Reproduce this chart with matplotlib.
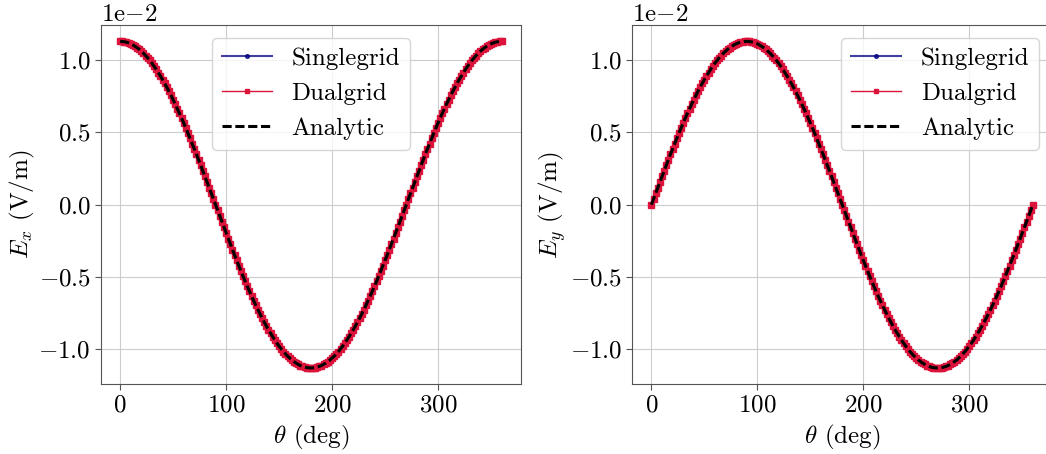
import matplotlib
matplotlib.use("Agg")
import matplotlib.pyplot as plt
from matplotlib.ticker import ScalarFormatter

plt.rcParams['font.family'] = ['cmr10', 'DejaVu Serif']
plt.rcParams['mathtext.fontset'] = 'cm'
plt.rcParams['axes.formatter.use_mathtext'] = True
plt.rcParams['font.size'] = 18

# Data (field values in units of 1e-2 V/m), sampled every 2 degrees
theta = list(range(0, 361, 2))
scale = 1e-2
ex_values = [1.130, 1.129, 1.127, 1.124, 1.119, 1.113, 1.105, 1.096, 1.086, 1.075,
             1.062, 1.048, 1.032, 1.016, 0.998, 0.979, 0.958, 0.937, 0.914, 0.890,
             0.866, 0.840, 0.813, 0.785, 0.756, 0.726, 0.696, 0.664, 0.632, 0.599,
             0.565, 0.531, 0.495, 0.460, 0.423, 0.386, 0.349, 0.311, 0.273, 0.235,
             0.196, 0.157, 0.118, 0.079, 0.039, 0.000,
             -0.039, -0.079, -0.118, -0.157, -0.196, -0.235, -0.273, -0.311, -0.349,
             -0.386, -0.423, -0.460, -0.495, -0.531, -0.565, -0.599, -0.632, -0.664,
             -0.696, -0.726, -0.756, -0.785, -0.813, -0.840, -0.866, -0.890, -0.914,
             -0.937, -0.958, -0.979, -0.998, -1.016, -1.032, -1.048, -1.062, -1.075,
             -1.086, -1.096, -1.105, -1.113, -1.119, -1.124, -1.127, -1.129, -1.130,
             -1.129, -1.127, -1.124, -1.119, -1.113, -1.105, -1.096, -1.086, -1.075,
             -1.062, -1.048, -1.032, -1.016, -0.998, -0.979, -0.958, -0.937, -0.914,
             -0.890, -0.866, -0.840, -0.813, -0.785, -0.756, -0.726, -0.696, -0.664,
             -0.632, -0.599, -0.565, -0.531, -0.495, -0.460, -0.423, -0.386, -0.349,
             -0.311, -0.273, -0.235, -0.196, -0.157, -0.118, -0.079, -0.039, 0.000,
             0.039, 0.079, 0.118, 0.157, 0.196, 0.235, 0.273, 0.311, 0.349,
             0.386, 0.423, 0.460, 0.495, 0.531, 0.565, 0.599, 0.632, 0.664,
             0.696, 0.726, 0.756, 0.785, 0.813, 0.840, 0.866, 0.890, 0.914,
             0.937, 0.958, 0.979, 0.998, 1.016, 1.032, 1.048, 1.062, 1.075,
             1.086, 1.096, 1.105, 1.113, 1.119, 1.124, 1.127, 1.129, 1.130]
ey_values = [0.000, 0.039, 0.079, 0.118, 0.157, 0.196, 0.235, 0.273, 0.311, 0.349,
             0.386, 0.423, 0.460, 0.495, 0.531, 0.565, 0.599, 0.632, 0.664, 0.696,
             0.726, 0.756, 0.785, 0.813, 0.840, 0.866, 0.890, 0.914, 0.937, 0.958,
             0.979, 0.998, 1.016, 1.032, 1.048, 1.062, 1.075, 1.086, 1.096, 1.105,
             1.113, 1.119, 1.124, 1.127, 1.129, 1.130,
             1.129, 1.127, 1.124, 1.119, 1.113, 1.105, 1.096, 1.086, 1.075,
             1.062, 1.048, 1.032, 1.016, 0.998, 0.979, 0.958, 0.937, 0.914,
             0.890, 0.866, 0.840, 0.813, 0.785, 0.756, 0.726, 0.696, 0.664,
             0.632, 0.599, 0.565, 0.531, 0.495, 0.460, 0.423, 0.386, 0.349,
             0.311, 0.273, 0.235, 0.196, 0.157, 0.118, 0.079, 0.039, 0.000,
             -0.039, -0.079, -0.118, -0.157, -0.196, -0.235, -0.273, -0.311, -0.349,
             -0.386, -0.423, -0.460, -0.495, -0.531, -0.565, -0.599, -0.632, -0.664,
             -0.696, -0.726, -0.756, -0.785, -0.813, -0.840, -0.866, -0.890, -0.914,
             -0.937, -0.958, -0.979, -0.998, -1.016, -1.032, -1.048, -1.062, -1.075,
             -1.086, -1.096, -1.105, -1.113, -1.119, -1.124, -1.127, -1.129, -1.130,
             -1.129, -1.127, -1.124, -1.119, -1.113, -1.105, -1.096, -1.086, -1.075,
             -1.062, -1.048, -1.032, -1.016, -0.998, -0.979, -0.958, -0.937, -0.914,
             -0.890, -0.866, -0.840, -0.813, -0.785, -0.756, -0.726, -0.696, -0.664,
             -0.632, -0.599, -0.565, -0.531, -0.495, -0.460, -0.423, -0.386, -0.349,
             -0.311, -0.273, -0.235, -0.196, -0.157, -0.118, -0.079, -0.039, 0.000]
series_labels = ['Singlegrid', 'Dualgrid', 'Analytic']
ylabels = [r'$E_x$ (V/m)', r'$E_y$ (V/m)']
legend_locs = ['upper center', 'upper right']


class OffsetFormatter(ScalarFormatter):
    # show the offset as "1e-2" like the LaTeX version
    def get_offset(self):
        if not self.orderOfMagnitude:
            return ''
        return r'$\mathdefault{1e{-}%d}$' % abs(self.orderOfMagnitude)


fig = plt.figure(figsize=(10.46, 4.54), dpi=100)
ax1 = fig.add_axes([0.0966, 0.1535, 0.4012, 0.7914])
ax2 = fig.add_axes([0.6045, 0.1535, 0.4012, 0.7914])

for ax, vals, ylab, loc in zip([ax1, ax2], [ex_values, ey_values], ylabels, legend_locs):
    y = [v * scale for v in vals]
    ax.plot(theta, y, color='navy', lw=1.5, marker='o', ms=3, alpha=0.75,
            label=series_labels[0])
    ax.plot(theta, y, color='crimson', lw=1.0, marker='s', ms=3.8,
            label=series_labels[1])
    ax.plot(theta, y, color='black', lw=2.2, linestyle=(0, (3, 1.2)),
            label=series_labels[2])
    ax.set_xlabel(r'$\theta$ (deg)')
    ax.set_ylabel(ylab, labelpad=1)
    ax.set_xticks([0, 100, 200, 300])
    ax.set_yticks([-0.01, -0.005, 0.0, 0.005, 0.01])
    fmt = OffsetFormatter(useMathText=True)
    fmt.set_powerlimits((-1, 1))
    ax.yaxis.set_major_formatter(fmt)
    ax.grid(True, color='#cccccc', lw=0.8)
    ax.set_axisbelow(True)
    for sp in ax.spines.values():
        sp.set_color('#555555')
    ax.tick_params(color='#555555', length=4)
    leg = ax.legend(loc=loc, markerscale=0.9)

fig.savefig('out.png', dpi=100)
